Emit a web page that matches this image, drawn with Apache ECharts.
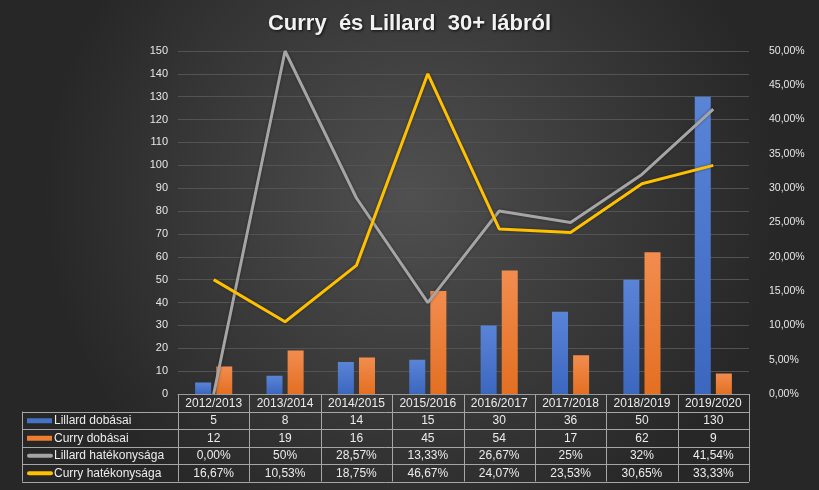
<!DOCTYPE html>
<html><head><meta charset="utf-8">
<script src="https://cdn.jsdelivr.net/npm/echarts@6/dist/echarts.min.js"></script>
<style>html,body{margin:0;padding:0;background:#2e2e2e}#c{width:819px;height:490px}</style>
</head><body><div id="c"></div>
<script>
const categories = ['2012/2013','2013/2014','2014/2015','2015/2016','2016/2017','2017/2018','2018/2019','2019/2020'];
const lillardShots = [5, 8, 14, 15, 30, 36, 50, 130];
const curryShots = [12, 19, 16, 45, 54, 17, 62, 9];
const lillardPct = [0.0, 0.50, 0.2857, 0.1333, 0.2667, 0.25, 0.32, 0.4154];
const curryPct = [0.1667, 0.1053, 0.1875, 0.4667, 0.2407, 0.2353, 0.3065, 0.3333];
const lillardPctLabels = ['0,00%','50%','28,57%','13,33%','26,67%','25%','32%','41,54%'];
const curryPctLabels = ['16,67%','10,53%','18,75%','46,67%','24,07%','23,53%','30,65%','33,33%'];
const seriesNames = ['Lillard dobásai','Curry dobásai','Lillard hatékonysága','Curry hatékonysága'];
const colors = ['#4472C4','#ED7D31','#A5A5A5','#FFC000'];

const FONT = 'Liberation Sans, Arial, sans-serif';
const chart = echarts.init(document.getElementById('c'));
const grid = {left:178, right:70, top:51, bottom:96};

chart.setOption({
  backgroundColor: {type:'radial', x:0.5, y:0.4, r:0.75, colorStops:[{offset:0,color:'#505050'},{offset:1,color:'#272727'}]},
  animation:false,
  title:{text:'Curry  és Lillard  30+ lábról', left:'center', top:8,
    textStyle:{color:'#f2f2f2', fontSize:22, fontWeight:'bold', fontFamily:FONT,
      textShadowColor:'rgba(0,0,0,0.8)', textShadowBlur:3, textShadowOffsetX:1, textShadowOffsetY:1}},
  grid: grid,
  xAxis:{type:'category', data:categories, axisLabel:{show:false}, axisTick:{show:false},
    axisLine:{lineStyle:{color:'#9a9a9a'}}},
  yAxis:[
    {type:'value', min:0, max:150, interval:10,
      axisLabel:{color:'#e6e6e6', fontSize:11, fontFamily:FONT, margin:10},
      splitLine:{lineStyle:{color:'#535353', width:1}}, axisLine:{show:false}, axisTick:{show:false}},
    {type:'value', min:0, max:0.5, interval:0.05,
      axisLabel:{color:'#e6e6e6', fontSize:10.5, fontFamily:FONT, margin:20,
        formatter:v=>(v*100).toFixed(2).replace('.',',')+'%'},
      splitLine:{show:false}, axisLine:{show:false}, axisTick:{show:false}}
  ],
  series:[
    {name:seriesNames[0], type:'bar', data:lillardShots, barWidth:16, barGap:'32%',
      itemStyle:{color:new echarts.graphic.LinearGradient(0,0,0,1,[{offset:0,color:'#5a84d6'},{offset:1,color:'#3b67bf'}]),
        shadowColor:'rgba(0,0,0,0.4)', shadowBlur:3, shadowOffsetX:1}},
    {name:seriesNames[1], type:'bar', data:curryShots, barWidth:16,
      itemStyle:{color:new echarts.graphic.LinearGradient(0,0,0,1,[{offset:0,color:'#f28d4f'},{offset:1,color:'#e36f22'}]),
        shadowColor:'rgba(0,0,0,0.4)', shadowBlur:3, shadowOffsetX:1}},
    {name:seriesNames[2], type:'line', yAxisIndex:1, data:lillardPct, symbol:'none',
      lineStyle:{color:colors[2], width:3, shadowColor:'rgba(0,0,0,0.4)', shadowBlur:3}, z:5},
    {name:seriesNames[3], type:'line', yAxisIndex:1, data:curryPct, symbol:'none',
      lineStyle:{color:colors[3], width:3, shadowColor:'rgba(0,0,0,0.4)', shadowBlur:3}, z:6}
  ]
});

// data table below the plot, built from the arrays
const rows = [lillardShots.map(String), curryShots.map(String), lillardPctLabels, curryPctLabels];
const x0 = chart.convertToPixel({xAxisIndex:0}, 0);
const x1 = chart.convertToPixel({xAxisIndex:0}, 1);
const colW = x1 - x0;
const tableLeft = 22;
const plotLeft = x0 - colW/2;
const plotRight = plotLeft + colW*categories.length;
const top0 = chart.convertToPixel({yAxisIndex:0}, 0);
const rowH = 17.5;
const lineColor = '#a6a6a6';
const g = [];
g.push({type:'line', shape:{x1:plotLeft, y1:top0+0.5, x2:plotRight, y2:top0+0.5}, style:{stroke:lineColor, lineWidth:1}});
for (let r=1;r<=5;r++){
  const y = Math.round(top0 + r*rowH)+0.5;
  g.push({type:'line', shape:{x1:tableLeft, y1:y, x2:plotRight, y2:y}, style:{stroke:lineColor, lineWidth:1}});
}
for (let c=0;c<=categories.length;c++){
  const x = Math.round(plotLeft + c*colW)+0.5;
  g.push({type:'line', shape:{x1:x, y1:top0, x2:x, y2:top0+5*rowH}, style:{stroke:lineColor, lineWidth:1}});
}
g.push({type:'line', shape:{x1:tableLeft+0.5, y1:top0+rowH, x2:tableLeft+0.5, y2:top0+5*rowH}, style:{stroke:lineColor, lineWidth:1}});
categories.forEach((c,i)=>{
  g.push({type:'text', x:chart.convertToPixel({xAxisIndex:0}, i), y:top0+rowH/2+0.5,
    style:{text:c, fill:'#ececec', font:'12px '+FONT, align:'center', verticalAlign:'middle'}});
});
rows.forEach((row,r)=>{
  const yc = top0 + (r+1)*rowH + rowH/2 + 0.5;
  row.forEach((v,i)=>{
    g.push({type:'text', x:chart.convertToPixel({xAxisIndex:0}, i), y:yc,
      style:{text:v, fill:'#ececec', font:'12px '+FONT, align:'center', verticalAlign:'middle'}});
  });
  if (r<2) g.push({type:'rect', shape:{x:27, y:yc-2.5, width:25, height:5}, style:{fill:colors[r]}});
  else g.push({type:'line', shape:{x1:29, y1:yc, x2:51, y2:yc}, style:{stroke:colors[r], lineWidth:4, lineCap:'round'}});
  g.push({type:'text', x:54, y:yc, style:{text:seriesNames[r], fill:'#ececec', font:'12px '+FONT, align:'left', verticalAlign:'middle'}});
});
chart.setOption({graphic:g});
</script></body></html>
